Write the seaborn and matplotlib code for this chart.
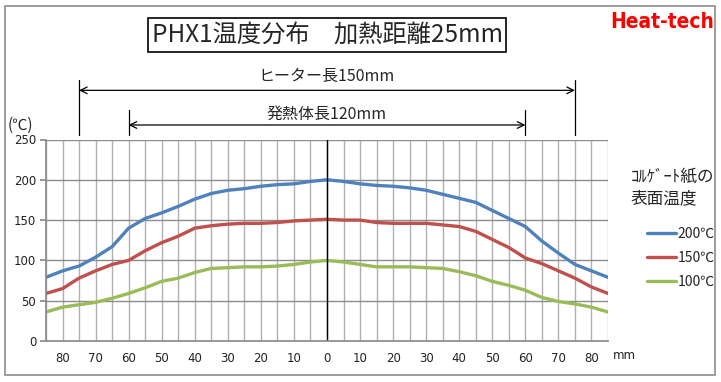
import pandas as pd
import matplotlib.pyplot as plt
import seaborn as sns
from matplotlib.patches import Rectangle
from matplotlib import font_manager

# Values (distance from centre in mm, temperature in ℃)
x_mm = [-85, -80, -75, -70, -65, -60, -55, -50, -45, -40, -35, -30, -25, -20, -15, -10, -5, 0,
        5, 10, 15, 20, 25, 30, 35, 40, 45, 50, 55, 60, 65, 70, 75, 80, 85]
temp_200 = [79, 87, 93, 104, 117, 140, 152, 159, 167, 176, 183, 187, 189, 192, 194, 195, 198, 200,
            198, 195, 193, 192, 190, 187, 182, 177, 172, 162, 152, 142, 124, 109, 95, 87, 79]
temp_150 = [59, 65, 78, 87, 95, 100, 112, 122, 130, 140, 143, 145, 146, 146, 147, 149, 150, 151,
            150, 150, 147, 146, 146, 146, 144, 142, 136, 126, 116, 103, 96, 87, 78, 67, 59]
temp_100 = [36, 42, 45, 48, 53, 59, 66, 74, 78, 85, 90, 91, 92, 92, 93, 95, 98, 100,
            98, 95, 92, 92, 92, 91, 90, 86, 81, 74, 69, 63, 54, 49, 46, 42, 36]
series_names = ["200℃", "150℃", "100℃"]
series_colors = ["#4F81BD", "#C0504D", "#9BBB59"]
x_tick_values = list(range(-80, 81, 10))
y_tick_values = [0, 50, 100, 150, 200, 250]

df = pd.DataFrame({
    "x": x_mm * 3,
    "temp": temp_200 + temp_150 + temp_100,
    "series": [series_names[0]] * len(x_mm) + [series_names[1]] * len(x_mm) + [series_names[2]] * len(x_mm),
})

sns.set_theme(style="white")
plt.rcParams['font.family'] = ['Noto Sans CJK JP', 'DejaVu Sans']

# condensed bold face for the logo if it is installed
logo_font = None
for f in font_manager.fontManager.ttflist:
    if "DejaVuSansCondensed-Bold.ttf" in f.fname:
        logo_font = font_manager.FontProperties(fname=f.fname, size=15)
if logo_font is None:
    logo_font = font_manager.FontProperties(family="DejaVu Sans", weight="bold", size=14)

fig = plt.figure(figsize=(7.21, 3.82), dpi=100)
ax = fig.add_axes([46 / 721, 41 / 382, 562 / 721, 201.5 / 382])

sns.lineplot(data=df, x="x", y="temp", hue="series", hue_order=series_names,
             palette=series_colors, linewidth=2.4, ax=ax)

ax.set_xlim(-85, 85)
ax.set_ylim(0, 250)
ax.set_xticks(x_tick_values)
ax.set_xticklabels([str(abs(v)) for v in x_tick_values], fontfamily="DejaVu Sans", fontsize=8.5)
ax.set_xticks(range(-85, 86, 5), minor=True)
ax.set_yticks(y_tick_values)
ax.set_yticklabels([str(v) for v in y_tick_values], fontfamily="DejaVu Sans", fontsize=8.5)
ax.set_xlabel("")
ax.set_ylabel("")
ax.grid(axis="x", which="both", color="#b0b0b0", linewidth=1)
ax.grid(axis="y", which="major", color="#8c8c8c", linewidth=1)
ax.set_axisbelow(True)
ax.tick_params(axis="x", which="both", length=0, pad=8, colors="#222222")
ax.tick_params(axis="y", length=4, color="#8c8c8c", pad=3, left=True, labelcolor="#222222")
for side in ["top", "right"]:
    ax.spines[side].set_visible(False)
for side in ["left", "bottom"]:
    ax.spines[side].set_color("#8c8c8c")
ax.axvline(0, color="black", linewidth=1)
ax.text(86.5, -17.5, "mm", fontsize=8.5, fontfamily="DejaVu Sans", ha="left", va="center",
        color="#222222", clip_on=False)

# dimension arrows above the plot
for x0, x1, y_arrow, y_top, label, y_label in [(-75, 75, 311, 324, "ヒーター長150mm", 328),
                                                 (-60, 60, 268, 287, "発熱体長120mm", 281)]:
    ax.annotate("", xy=(x0, y_arrow), xytext=(x1, y_arrow), xycoords="data",
                arrowprops=dict(arrowstyle="<->", color="black", lw=0.9, shrinkA=0, shrinkB=0),
                annotation_clip=False)
    for xv in (x0, x1):
        ax.plot([xv, xv], [y_top, 256], color="black", linewidth=0.9, clip_on=False)
    ax.text(0, y_label, label, fontsize=11.5, ha="center", va="center", clip_on=False)

ax.text(-96.5, 268, "(℃)", fontsize=11, ha="left", va="center", clip_on=False)

# legend
handles, labels = ax.get_legend_handles_labels()
ax.legend(handles, labels, loc="upper left", bbox_to_anchor=(634 / 721, 1 - 214 / 382),
          bbox_transform=fig.transFigure, frameon=False, handlelength=2.1,
          handletextpad=0.15, labelspacing=0.75, fontsize=10)
fig.text(631 / 721, 1 - 188 / 382, "ｺﾙｹﾞｰﾄ紙の\n表面温度", fontsize=12, ha="left",
         va="center", linespacing=1.35)

# title and logo
fig.text(327 / 721, 1 - 35 / 382, "PHX1温度分布　加熱距離25mm", fontsize=17.5, ha="center",
         va="center", bbox=dict(boxstyle="square,pad=0.15", facecolor="white",
                                edgecolor="black", linewidth=1.2))
fig.text(662 / 721, 1 - 22 / 382, "Heat-tech", fontproperties=logo_font,
         color="#ff0000", ha="center", va="center")

fig.patches.append(Rectangle((5 / 721, 1 - 375 / 382), 710 / 721, 369 / 382,
                             transform=fig.transFigure, fill=False, edgecolor="#8c8c8c",
                             linewidth=1.2))

fig.savefig("out.png", dpi=100)
plt.close(fig)
